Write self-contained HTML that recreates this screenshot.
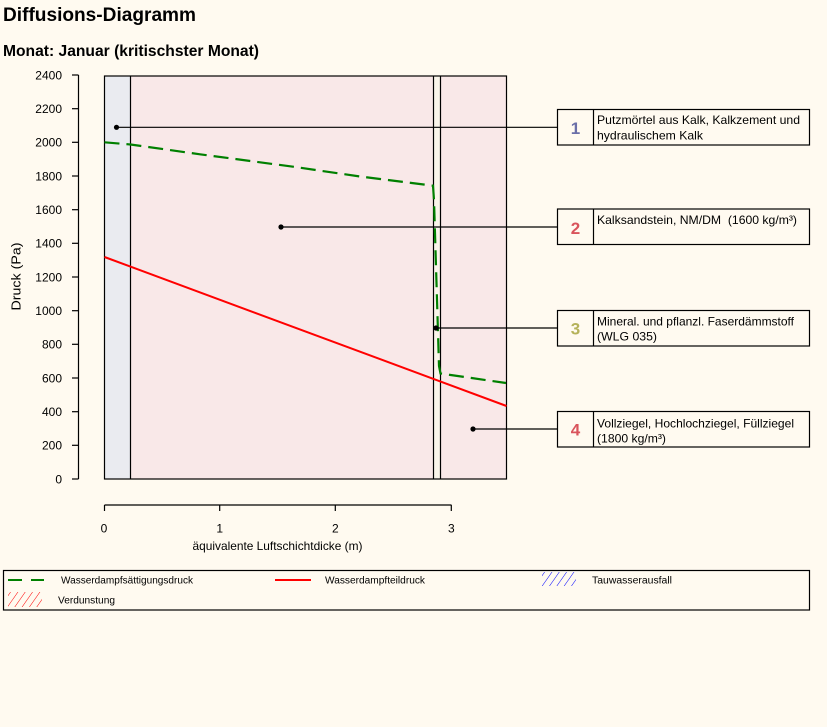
<!DOCTYPE html>
<html><head><meta charset="utf-8">
<style>
html,body{margin:0;padding:0;background:#fffaf0;}
svg{display:block;font-family:"Liberation Sans",Arial,sans-serif;}
</style></head>
<body>
<svg width="827" height="727" viewBox="0 0 827 727" xmlns="http://www.w3.org/2000/svg">
<defs>
<pattern id="hb" patternUnits="userSpaceOnUse" width="6" height="6" patternTransform="rotate(35)">
<line x1="0" y1="0" x2="0" y2="6" stroke="#0000ff" stroke-width="1"/>
</pattern>
<pattern id="hr" patternUnits="userSpaceOnUse" width="6" height="6" patternTransform="rotate(35)">
<line x1="0" y1="0" x2="0" y2="6" stroke="#ff0000" stroke-width="1"/>
</pattern>
</defs>
<rect width="827" height="727" fill="#fffaf0"/>
<text x="3" y="21" font-size="19" font-weight="bold" fill="#000" textLength="193" lengthAdjust="spacingAndGlyphs">Diffusions-Diagramm</text>
<text x="3" y="56" font-size="15.5" font-weight="bold" fill="#000" textLength="256" lengthAdjust="spacingAndGlyphs">Monat: Januar (kritischster Monat)</text>

<!-- layers -->
<rect x="104.5" y="76" width="26" height="403" fill="#eaebf0"/>
<rect x="130.5" y="76" width="303" height="403" fill="#f9e8e8"/>
<rect x="433.5" y="76" width="7" height="403" fill="#faf5ea"/>
<rect x="440.5" y="76" width="66" height="403" fill="#f9e8e8"/>
<g stroke="#000" stroke-width="1.2" fill="none">
<rect x="104.5" y="76" width="402" height="403"/>
<line x1="130.5" y1="76" x2="130.5" y2="479"/>
<line x1="433.5" y1="76" x2="433.5" y2="479"/>
<line x1="440.5" y1="76" x2="440.5" y2="479"/>
</g>

<!-- y axis -->
<g stroke="#000" stroke-width="1.2">
<line x1="78.5" y1="75" x2="78.5" y2="479"/>
<line x1="72" y1="75" x2="78.5" y2="75"/>
<line x1="72" y1="108.7" x2="78.5" y2="108.7"/>
<line x1="72" y1="142.3" x2="78.5" y2="142.3"/>
<line x1="72" y1="176" x2="78.5" y2="176"/>
<line x1="72" y1="209.7" x2="78.5" y2="209.7"/>
<line x1="72" y1="243.3" x2="78.5" y2="243.3"/>
<line x1="72" y1="277" x2="78.5" y2="277"/>
<line x1="72" y1="310.7" x2="78.5" y2="310.7"/>
<line x1="72" y1="344.3" x2="78.5" y2="344.3"/>
<line x1="72" y1="378" x2="78.5" y2="378"/>
<line x1="72" y1="411.7" x2="78.5" y2="411.7"/>
<line x1="72" y1="445.3" x2="78.5" y2="445.3"/>
<line x1="72" y1="479" x2="78.5" y2="479"/>
</g>
<g font-size="12" fill="#000" text-anchor="end">
<text x="62" y="79.3">2400</text>
<text x="62" y="113">2200</text>
<text x="62" y="146.6">2000</text>
<text x="62" y="180.3">1800</text>
<text x="62" y="214">1600</text>
<text x="62" y="247.6">1400</text>
<text x="62" y="281.3">1200</text>
<text x="62" y="315">1000</text>
<text x="62" y="348.6">800</text>
<text x="62" y="382.3">600</text>
<text x="62" y="416">400</text>
<text x="62" y="449.6">200</text>
<text x="62" y="483.3">0</text>
</g>
<text transform="translate(20.5,276.5) rotate(-90)" font-size="13" text-anchor="middle" fill="#000" textLength="68" lengthAdjust="spacingAndGlyphs">Druck (Pa)</text>

<!-- x axis -->
<g stroke="#000" stroke-width="1.2">
<line x1="104.5" y1="505" x2="451.5" y2="505"/>
<line x1="104.5" y1="505" x2="104.5" y2="511"/>
<line x1="219.7" y1="505" x2="219.7" y2="511"/>
<line x1="335.3" y1="505" x2="335.3" y2="511"/>
<line x1="451.3" y1="505" x2="451.3" y2="511"/>
</g>
<g font-size="12" fill="#000" text-anchor="middle">
<text x="104" y="532.5">0</text>
<text x="219.7" y="532.5">1</text>
<text x="335.3" y="532.5">2</text>
<text x="451.3" y="532.5">3</text>
</g>
<text x="277.5" y="550" font-size="12" text-anchor="middle" fill="#000" textLength="170" lengthAdjust="spacingAndGlyphs">äquivalente Luftschichtdicke (m)</text>

<!-- series -->
<polyline points="104.5,257 506.5,406" fill="none" stroke="#ff0000" stroke-width="2"/>
<polyline points="104.5,142.3 130.5,144.5 200,154.3 293,166.7 360,176.5 433,185.7 434,200 439,366 440.5,373.5 506,383" fill="none" stroke="#008000" stroke-width="2.2" stroke-dasharray="15 7"/>

<!-- pointers -->
<g stroke="#000" stroke-width="1.2">
<line x1="116" y1="127.3" x2="557" y2="127.3"/>
<line x1="281" y1="227" x2="557" y2="227"/>
<line x1="436" y1="328" x2="557" y2="328"/>
<line x1="473" y1="429" x2="557" y2="429"/>
</g>
<g fill="#000">
<circle cx="116.5" cy="127.3" r="2.6"/>
<circle cx="281" cy="227" r="2.6"/>
<circle cx="436" cy="328" r="2.6"/>
<circle cx="473" cy="429" r="2.6"/>
</g>

<!-- label boxes -->
<g fill="#fffaf0" stroke="#000" stroke-width="1.2">
<rect x="557.5" y="109.5" width="252" height="35.5"/>
<rect x="557.5" y="209" width="252" height="35.5"/>
<rect x="557.5" y="310.5" width="252" height="35.5"/>
<rect x="557.5" y="411.5" width="252" height="35.5"/>
<line x1="593.5" y1="109.5" x2="593.5" y2="145"/>
<line x1="593.5" y1="209" x2="593.5" y2="244.5"/>
<line x1="593.5" y1="310.5" x2="593.5" y2="346"/>
<line x1="593.5" y1="411.5" x2="593.5" y2="447"/>
</g>
<g font-size="17" font-weight="bold" text-anchor="middle">
<text x="575.5" y="134" fill="#6b6fa8">1</text>
<text x="575.5" y="234" fill="#d9545c">2</text>
<text x="575.5" y="334.5" fill="#b5b25a">3</text>
<text x="575.5" y="435.5" fill="#d9545c">4</text>
</g>
<g font-size="12" fill="#000">
<text x="597" y="124" textLength="203" lengthAdjust="spacingAndGlyphs">Putzmörtel aus Kalk, Kalkzement und</text>
<text x="597" y="139.3" textLength="106" lengthAdjust="spacingAndGlyphs">hydraulischem Kalk</text>
<text x="597" y="224" textLength="200" lengthAdjust="spacingAndGlyphs">Kalksandstein, NM/DM&#160; (1600 kg/m³)</text>
<text x="597" y="325.3" textLength="197" lengthAdjust="spacingAndGlyphs">Mineral. und pflanzl. Faserdämmstoff</text>
<text x="597" y="340.7" textLength="60" lengthAdjust="spacingAndGlyphs">(WLG 035)</text>
<text x="597" y="427.3" textLength="197" lengthAdjust="spacingAndGlyphs">Vollziegel, Hochlochziegel, Füllziegel</text>
<text x="597" y="442.7" textLength="69" lengthAdjust="spacingAndGlyphs">(1800 kg/m³)</text>
</g>

<!-- legend -->
<rect x="3.5" y="570.5" width="806" height="39.5" fill="#fffaf0" stroke="#000" stroke-width="1.2"/>
<line x1="8" y1="580" x2="44" y2="580" stroke="#008000" stroke-width="2" stroke-dasharray="14 9"/>
<line x1="275" y1="580" x2="311" y2="580" stroke="#ff0000" stroke-width="2"/>
<rect x="542" y="572" width="34" height="14" fill="url(#hb)"/>
<rect x="8" y="592" width="34" height="15" fill="url(#hr)"/>
<g font-size="10" fill="#000">
<text x="61" y="583.5" textLength="132" lengthAdjust="spacingAndGlyphs">Wasserdampfsättigungsdruck</text>
<text x="325" y="583.5" textLength="100" lengthAdjust="spacingAndGlyphs">Wasserdampfteildruck</text>
<text x="592" y="583.5" textLength="80" lengthAdjust="spacingAndGlyphs">Tauwasserausfall</text>
<text x="58" y="603.5" textLength="57" lengthAdjust="spacingAndGlyphs">Verdunstung</text>
</g>
</svg>
</body></html>
